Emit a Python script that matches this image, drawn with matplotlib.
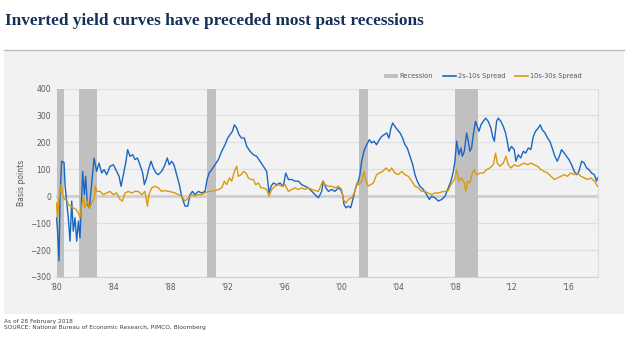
import matplotlib
matplotlib.use("Agg")
import matplotlib.pyplot as plt
from matplotlib.patches import Rectangle, Patch
from matplotlib.lines import Line2D
import numpy as np

# 2s-10s spread (basis points)
years_2s10s = [1980.00, 1980.06, 1980.18, 1980.25, 1980.36, 1980.53, 1980.60, 1980.71, 1980.83, 1980.95,
               1981.07, 1981.18, 1981.30, 1981.42, 1981.54, 1981.65, 1981.77, 1981.84, 1981.96, 1982.05,
               1982.17, 1982.31, 1982.47, 1982.64, 1982.82, 1982.99, 1983.18, 1983.34, 1983.53, 1983.76,
               1984.00, 1984.23, 1984.40, 1984.54, 1984.70, 1984.89, 1985.00, 1985.17, 1985.36, 1985.52,
               1985.69, 1985.87, 1986.06, 1986.18, 1986.34, 1986.50, 1986.65, 1986.81, 1987.00, 1987.16,
               1987.39, 1987.58, 1987.79, 1987.93, 1988.10, 1988.26, 1988.45, 1988.64, 1988.80, 1989.04,
               1989.23, 1989.39, 1989.56, 1989.74, 1989.98, 1990.21, 1990.45, 1990.59, 1990.73, 1990.92,
               1991.15, 1991.38, 1991.62, 1991.85, 1992.04, 1992.20, 1992.37, 1992.51, 1992.67, 1992.84,
               1993.02, 1993.21, 1993.38, 1993.61, 1993.85, 1994.08, 1994.31, 1994.55, 1994.78, 1994.95,
               1995.09, 1995.25, 1995.49, 1995.72, 1995.95, 1996.12, 1996.31, 1996.54, 1996.78, 1997.01,
               1997.24, 1997.48, 1997.71, 1997.95, 1998.18, 1998.42, 1998.65, 1998.76, 1998.95, 1999.12,
               1999.35, 1999.58, 1999.82, 1999.98, 2000.12, 2000.22, 2000.36, 2000.52, 2000.69, 2000.87,
               2001.04, 2001.23, 2001.34, 2001.46, 2001.62, 2001.81, 2002.00, 2002.16, 2002.33, 2002.51,
               2002.70, 2002.87, 2003.03, 2003.22, 2003.38, 2003.52, 2003.64, 2003.80, 2003.97, 2004.16,
               2004.34, 2004.51, 2004.67, 2004.86, 2005.05, 2005.21, 2005.37, 2005.56, 2005.80, 2006.03,
               2006.22, 2006.38, 2006.62, 2006.85, 2007.09, 2007.32, 2007.55, 2007.74, 2007.91, 2008.02,
               2008.14, 2008.30, 2008.44, 2008.54, 2008.68, 2008.84, 2008.96, 2009.07, 2009.19, 2009.31,
               2009.47, 2009.59, 2009.71, 2009.85, 2010.01, 2010.18, 2010.36, 2010.55, 2010.67, 2010.79,
               2010.95, 2011.07, 2011.25, 2011.42, 2011.58, 2011.70, 2011.82, 2012.00, 2012.19, 2012.31,
               2012.47, 2012.64, 2012.83, 2012.99, 2013.18, 2013.36, 2013.53, 2013.69, 2013.88, 2014.02,
               2014.16, 2014.35, 2014.54, 2014.70, 2014.86, 2015.05, 2015.22, 2015.36, 2015.52, 2015.71,
               2015.87, 2016.04, 2016.22, 2016.41, 2016.58, 2016.74, 2016.93, 2017.11, 2017.28, 2017.44,
               2017.63, 2017.82, 2017.98, 2018.05]
spread_2s10s = [-80, -117, -240, 0, 130, 125, 43, -18, -80, -167,
                -18, -130, -80, -167, -92, -155, 6, 92, 6, 74,
                -30, -43, 43, 142, 92, 123, 86, 99, 80, 111,
                117, 92, 74, 37, 80, 130, 173, 148, 154, 136,
                142, 117, 86, 43, 68, 105, 130, 105, 86, 80,
                92, 111, 142, 117, 130, 117, 80, 43, 0, -37,
                -37, 6, 18, 6, 18, 12, 18, 62, 86, 99,
                117, 136, 167, 191, 216, 228, 241, 265, 253, 228,
                216, 216, 185, 167, 154, 148, 130, 111, 92, 12,
                37, 49, 43, 49, 37, 86, 62, 62, 56, 56,
                43, 37, 31, 18, 6, -6, 18, 56, 31, 18,
                25, 18, 31, 25, 6, -31, -43, -37, -43, -6,
                31, 56, 80, 130, 167, 191, 210, 198, 204, 191,
                210, 222, 228, 235, 216, 253, 272, 259, 247, 235,
                216, 191, 179, 148, 117, 80, 56, 37, 25, 6,
                -12, 0, -6, -18, -12, 0, 31, 56, 92, 130,
                204, 154, 179, 148, 167, 235, 204, 167, 179, 228,
                278, 259, 241, 265, 278, 290, 278, 253, 222, 204,
                278, 290, 278, 259, 235, 204, 167, 185, 173, 130,
                154, 142, 167, 160, 179, 173, 222, 241, 253, 265,
                247, 235, 216, 204, 179, 148, 130, 148, 173, 160,
                148, 136, 117, 92, 80, 92, 130, 123, 105, 99,
                86, 80, 56, 68]

# 10s-30s spread (basis points)
years_10s30s = [1980.00, 1980.06, 1980.18, 1980.32, 1980.43, 1980.55, 1980.71, 1980.83, 1981.00, 1981.18,
                1981.37, 1981.54, 1981.65, 1981.79, 1981.89, 1982.00, 1982.17, 1982.31, 1982.47, 1982.66,
                1982.73, 1982.82, 1983.06, 1983.29, 1983.53, 1983.76, 1984.00, 1984.23, 1984.47, 1984.63,
                1984.82, 1985.05, 1985.29, 1985.52, 1985.75, 1985.99, 1986.22, 1986.39, 1986.50, 1986.69,
                1986.93, 1987.16, 1987.39, 1987.63, 1987.86, 1988.10, 1988.33, 1988.57, 1988.80, 1989.04,
                1989.27, 1989.51, 1989.74, 1989.98, 1990.21, 1990.45, 1990.68, 1990.92, 1991.15, 1991.38,
                1991.62, 1991.81, 1991.97, 1992.16, 1992.32, 1992.51, 1992.67, 1992.79, 1992.98, 1993.14,
                1993.33, 1993.49, 1993.68, 1993.85, 1994.01, 1994.20, 1994.38, 1994.55, 1994.78, 1994.95,
                1995.13, 1995.37, 1995.60, 1995.84, 1996.07, 1996.31, 1996.54, 1996.78, 1997.01, 1997.24,
                1997.48, 1997.71, 1997.95, 1998.18, 1998.42, 1998.72, 1998.88, 1999.12, 1999.35, 1999.58,
                1999.82, 2000.05, 2000.17, 2000.36, 2000.52, 2000.76, 2000.99, 2001.11, 2001.27, 2001.46,
                2001.62, 2001.76, 2001.93, 2002.09, 2002.28, 2002.51, 2002.70, 2002.94, 2003.17, 2003.41,
                2003.57, 2003.80, 2004.04, 2004.27, 2004.51, 2004.74, 2004.98, 2005.21, 2005.45, 2005.68,
                2005.91, 2006.15, 2006.38, 2006.62, 2006.85, 2007.09, 2007.32, 2007.55, 2007.74, 2007.91,
                2008.02, 2008.14, 2008.30, 2008.49, 2008.68, 2008.79, 2008.91, 2009.07, 2009.24, 2009.38,
                2009.54, 2009.78, 2010.01, 2010.25, 2010.48, 2010.72, 2010.88, 2011.00, 2011.18, 2011.42,
                2011.61, 2011.77, 2011.96, 2012.19, 2012.43, 2012.66, 2012.90, 2013.13, 2013.36, 2013.60,
                2013.83, 2014.07, 2014.30, 2014.54, 2014.77, 2015.01, 2015.24, 2015.47, 2015.71, 2015.94,
                2016.18, 2016.41, 2016.65, 2016.88, 2017.11, 2017.35, 2017.58, 2017.82, 2018.05]
spread_10s30s = [-25, -80, -6, 43, 6, -12, -12, -31, -37, -43,
                 -49, -62, -80, -31, 0, -43, -18, -43, -25, -6,
                 37, 18, 18, 6, 12, 18, 6, 12, -12, -18,
                 12, 18, 12, 18, 18, 6, 18, -37, 6, 31,
                 37, 31, 18, 21, 18, 16, 12, 6, 0, -18,
                 -6, 6, 0, 6, 6, 12, 18, 18, 21, 25,
                 31, 56, 43, 68, 56, 92, 111, 74, 80, 92,
                 86, 68, 62, 62, 43, 49, 31, 31, 25, 0,
                 25, 37, 43, 37, 43, 18, 25, 31, 25, 31,
                 25, 31, 25, 21, 18, 56, 43, 37, 37, 31,
                 37, 25, -12, -25, -12, -6, 18, 49, 43, 56,
                 92, 56, 37, 43, 49, 80, 86, 92, 105, 92,
                 105, 86, 80, 92, 80, 74, 56, 37, 31, 18,
                 18, 12, 6, 12, 12, 16, 18, 21, 43, 56,
                 68, 99, 56, 68, 49, 18, 56, 49, 86, 99,
                 80, 86, 86, 99, 105, 117, 160, 123, 111, 123,
                 148, 117, 105, 117, 111, 117, 123, 117, 123, 117,
                 111, 99, 92, 86, 74, 62, 68, 74, 80, 74,
                 86, 80, 86, 74, 68, 62, 68, 56, 37]

# NBER recessions (start, end)
rec_start = [1980.04, 1981.56, 1990.59, 2001.27, 2008.02]
rec_end = [1980.53, 1982.87, 1991.22, 2001.93, 2009.61]

x_ticks = [1980, 1984, 1988, 1992, 1996, 2000, 2004, 2008, 2012, 2016]
x_labels = ["'80", "'84", "'88", "'92", "'96", "'00", "'04", "'08", "'12", "'16"]
y_ticks = [-300, -200, -100, 0, 100, 200, 300, 400]

blue = '#1a67c2'
orange = '#d99a0d'
recgray = '#c0c0c0'
panel = '#f2f2f2'
txtgray = '#595959'

fig = plt.figure(figsize=(6.28, 3.42), dpi=100)

# light grey panel behind the chart
fig.patches.append(Rectangle((4 / 628, 1 - 313.5 / 342), 620 / 628, (313.5 - 49.5) / 342,
                             transform=fig.transFigure, facecolor=panel, edgecolor='none', zorder=-2))
fig.lines.append(Line2D([4 / 628, 624 / 628], [1 - 49.8 / 342] * 2, transform=fig.transFigure,
                        color='#bcbcbc', lw=1.0, zorder=-1))

fig.text(5 / 628, 1 - 25 / 342, 'Inverted yield curves have preceded most past recessions',
         family='Liberation Serif', fontweight='bold', fontsize=12.4, color='#16305a')

ax = fig.add_axes([56.5 / 628, 1 - 277 / 342, (597.7 - 56.5) / 628, (277 - 88.5) / 342])
ax.set_zorder(2)
ax.set_facecolor(panel)

for s, e in zip(rec_start, rec_end):
    ax.axvspan(s, e, color=recgray, lw=0, zorder=1)

for yv in y_ticks:
    if yv == 0:
        ax.axhline(yv, color='#cfcfcf', lw=2.0, zorder=0.5)
    else:
        ax.axhline(yv, color='#dedede', lw=0.8, zorder=0.5)

ax.plot(years_10s30s, spread_10s30s, color=orange, lw=1.0, zorder=3)
ax.plot(years_2s10s, spread_2s10s, color=blue, lw=1.0, zorder=2)

ax.set_xlim(1980, 2018.06)
ax.set_ylim(-300, 400)
ax.set_xticks(x_ticks)
ax.set_xticklabels(x_labels)
ax.set_yticks(y_ticks)
for sp in ['top', 'left']:
    ax.spines[sp].set_visible(False)
ax.spines['bottom'].set_color('#d0d0d0')
ax.spines['right'].set_color('#dedede')
ax.spines['right'].set_linewidth(0.8)
ax.tick_params(length=0, labelsize=5.5, labelcolor=txtgray, pad=4)
ax.set_ylabel('Basis points', fontsize=5.5, color=txtgray, labelpad=3)

handles = [Patch(facecolor=recgray, edgecolor='none'),
           Line2D([], [], color=blue, lw=1.2),
           Line2D([], [], color=orange, lw=1.2)]
fig.legend(handles, ['Recession', '2s-10s Spread', '10s-30s Spread'], loc='center right',
           bbox_to_anchor=(588 / 628, 1 - 76 / 342), ncol=3, frameon=False,
           fontsize=4.8, labelcolor=txtgray, handlelength=2.0, handleheight=0.6,
           handletextpad=0.3, columnspacing=1.4)

fig.text(4 / 628, 1 - 323 / 342, 'As of 28 February 2018', fontsize=4.2, color='#404040')
fig.text(4 / 628, 1 - 329.5 / 342, 'SOURCE: National Bureau of Economic Research, PIMCO, Bloomberg',
         fontsize=4.2, color='#404040')

fig.savefig('out.png', dpi=100, facecolor='white')
